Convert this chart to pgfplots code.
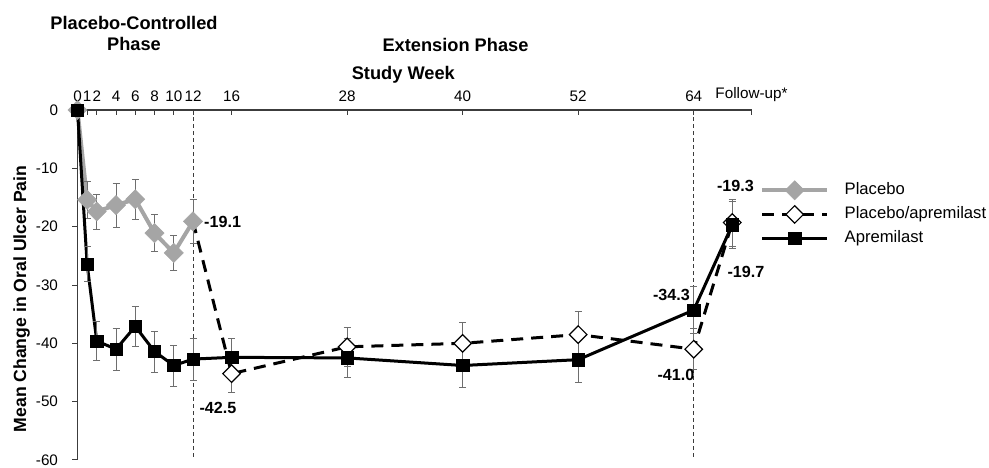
\documentclass[border=0pt]{standalone}
\usepackage{pgfplots}
\usepackage{pgfplotstable}
\pgfplotsset{compat=1.18}
\usepackage{fontspec}
\setmainfont{Liberation Sans}
\definecolor{plgray}{RGB}{165,165,165}
\definecolor{errgray}{RGB}{110,110,110}
\definecolor{axgray}{RGB}{60,60,60}

\pgfplotstableread{
x y e
0 0 0
1 -15.4 3.2
2 -17.4 3.0
4 -16.3 3.8
6 -15.3 3.4
8 -21.1 3.2
10 -24.5 3.0
12 -19.1 3.7
}\placebo

\pgfplotstableread{
x y e
12 -19.1 0
16 -45.2 3.2
28 -40.6 3.3
40 -40.0 3.6
52 -38.5 4.0
64 -41.0 3.5
68 -19.3 4.0
}\plaprem

\pgfplotstableread{
x y e
0 0 0
1 -26.4 3.0
2 -39.6 3.4
4 -41.0 3.6
6 -37.1 3.5
8 -41.4 3.5
10 -43.8 3.5
12 -42.7 3.6
16 -42.4 3.3
28 -42.5 3.4
40 -43.8 3.8
52 -42.8 3.9
64 -34.3 4.0
68 -19.7 4.0
}\apremilast

\begin{document}
\begin{tikzpicture}
\useasboundingbox (-77.5bp,-8bp) rectangle (911.5bp,460bp);
\begin{axis}[
  at={(0,0)}, anchor=south west,
  scale only axis, width=674bp, height=350bp,
  xmin=0, xmax=70, ymin=-60, ymax=0,
  axis x line*=top, axis y line*=left,
  axis line style={-, draw=axgray, line width=1.2bp},
  xtick={0,1,2,4,6,8,10,12,16,28,40,52,64,70},
  xticklabels={0,1,2,4,6,8,10,12,16,28,40,52,64,Follow-up*},
  ytick={-60,-50,-40,-30,-20,-10,0},
  yticklabels={-60,-50,-40,-30,-20,-10,0},
  xtick align=inside, ytick align=outside,
  major tick length=5bp,
  tick style={draw=axgray, line width=1bp},
  tick label style={font=\fontsize{15.3}{15}\selectfont, text=black},
  xticklabel style={yshift=5bp},
  yticklabel style={xshift=-11bp},
  xlabel={Study Week},
  xlabel style={at={(axis description cs:0.4834,1.1)}, anchor=center, font=\bfseries\fontsize{18.3}{20}\selectfont},
  ylabel={Mean Change in Oral Ulcer Pain},
  ylabel style={at={(axis description cs:-0.083,0.46)}, anchor=center, rotate=0, font=\bfseries\fontsize{17.7}{20}\selectfont},
  legend style={draw=none, fill=none, inner sep=0pt, at={(1.0126,0.7986)}, anchor=north west,
    font=\fontsize{16.7}{17}\selectfont, row sep=5bp,
    nodes={inner sep=1.5bp, text height=12bp, text depth=4bp}},
  legend cell align=left,
  legend image code/.code={\draw[mark repeat=2,mark phase=2] plot coordinates {(0bp,0bp) (32.5bp,0bp) (65bp,0bp)};},
  /tikz/every odd column/.append style={column sep=14bp},
  clip=false,
]
\draw[axgray, line width=0.8bp, dash pattern=on 4bp off 3bp] (axis cs:12,0) -- (axis cs:12,-60);
\draw[axgray, line width=0.8bp, dash pattern=on 4bp off 3bp] (axis cs:64,0) -- (axis cs:64,-60);

\addplot[plgray, line width=4bp, mark=square*, mark size=6.8bp,
  mark options={rotate=45, solid, fill=plgray, draw=plgray, line width=0.5bp},
  error bars/.cd, y dir=both, y explicit,
  error bar style={errgray, line width=0.8bp, solid},
  error mark options={rotate=90, errgray, line width=0.8bp, mark size=3.5bp, solid}]
  table[x=x, y=y, y error=e] {\placebo};
\addlegendentry{Placebo}

\addplot[black, line width=3bp, dash pattern=on 12bp off 8bp, mark=square*, mark size=6.2bp, mark phase=2,
  mark options={rotate=45, solid, fill=white, draw=black, line width=1.2bp},
  error bars/.cd, y dir=both, y explicit,
  error bar style={errgray, line width=0.8bp, solid},
  error mark options={rotate=90, errgray, line width=0.8bp, mark size=3.5bp, solid}]
  table[x=x, y=y, y error=e] {\plaprem};
\addlegendentry{Placebo/apremilast}

\addplot[black, line width=3bp, mark=square*, mark size=6.2bp,
  mark options={solid, fill=black, draw=black, line width=0.5bp},
  error bars/.cd, y dir=both, y explicit,
  error bar style={errgray, line width=0.8bp, solid},
  error mark options={rotate=90, errgray, line width=0.8bp, mark size=3.5bp, solid}]
  table[x=x, y=y, y error=e] {\apremilast};
\addlegendentry{Apremilast}
\end{axis}

\node[font=\bfseries\fontsize{18.3}{21}\selectfont, align=center] at (56.5bp,426.5bp) {Placebo-Controlled\\Phase};
\node[font=\bfseries\fontsize{18.3}{21}\selectfont] at (378bp,415bp) {Extension Phase};

\begin{scope}[every node/.style={font=\bfseries\fontsize{16.2}{17}\selectfont, inner sep=0pt}]
\node[anchor=west] at (126.5bp,238bp) {-19.1};
\node at (140.5bp,52bp) {-42.5};
\node at (594bp,165bp) {-34.3};
\node at (598.5bp,85bp) {-41.0};
\node at (658bp,274bp) {-19.3};
\node at (668.5bp,188bp) {-19.7};
\end{scope}
\end{tikzpicture}
\end{document}
